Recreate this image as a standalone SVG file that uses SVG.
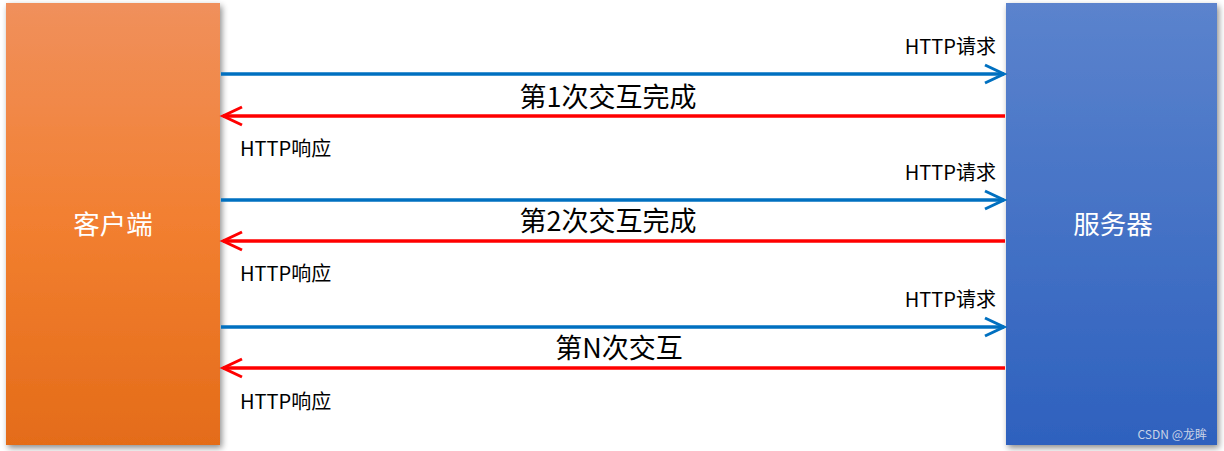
<svg xmlns="http://www.w3.org/2000/svg" width="1224" height="451" viewBox="0 0 1224 451">
<defs>
<linearGradient id="gOrange" x1="0" y1="0" x2="0" y2="1">
<stop offset="0" stop-color="#F0905C"/>
<stop offset="0.5" stop-color="#F27F30"/>
<stop offset="1" stop-color="#E46C19"/>
</linearGradient>
<linearGradient id="gBlue" x1="0" y1="0" x2="0" y2="1">
<stop offset="0" stop-color="#5B83CD"/>
<stop offset="1" stop-color="#2E61BE"/>
</linearGradient>
<filter id="sh" x="-10%" y="-10%" width="125%" height="125%">
<feGaussianBlur in="SourceAlpha" stdDeviation="3"/>
<feOffset dx="2" dy="3"/>
<feComponentTransfer><feFuncA type="linear" slope="0.45"/></feComponentTransfer>
<feMerge><feMergeNode/><feMergeNode in="SourceGraphic"/></feMerge>
</filter>
<marker id="mBlue" viewBox="0 0 12 12" refX="11" refY="6" markerWidth="12" markerHeight="12" markerUnits="userSpaceOnUse" orient="auto" overflow="visible">
<path d="M-8,-3 L11,6 L-8,15" fill="none" stroke="#0070C0" stroke-width="3"/>
</marker>
<marker id="mRed" viewBox="0 0 12 12" refX="11" refY="6" markerWidth="12" markerHeight="12" markerUnits="userSpaceOnUse" orient="auto" overflow="visible">
<path d="M-8,-3 L11,6 L-8,15" fill="none" stroke="#FF0000" stroke-width="3"/>
</marker>
</defs>
<style>
.lbl{font-family:"Noto Sans CJK SC","Liberation Sans",sans-serif;font-size:20px;fill:#000}
.big{font-family:"Noto Sans CJK SC","Liberation Sans",sans-serif;font-size:27px;fill:#000;text-anchor:middle}
.box{font-family:"Noto Sans CJK SC","Liberation Sans",sans-serif;font-size:26.5px;fill:#fff;text-anchor:middle}
.req{stroke:#0070C0;stroke-width:3.5;fill:none;marker-end:url(#mBlue)}
.res{stroke:#FF0000;stroke-width:3.5;fill:none;marker-end:url(#mRed)}
</style>
<rect width="1224" height="451" fill="#fff"/>
<g id="client">
<rect x="6" y="3" width="214" height="442" fill="url(#gOrange)" filter="url(#sh)"/>
<text class="box" x="113" y="234">客户端</text>
</g>
<g id="server">
<rect x="1006" y="3" width="211" height="442" fill="url(#gBlue)" filter="url(#sh)"/>
<text class="box" x="1113" y="234">服务器</text>
</g>
<g id="connectors">
<line class="req" x1="221" y1="74" x2="1004" y2="74"/>
<line class="res" x1="1005" y1="116" x2="223" y2="116"/>
<line class="req" x1="221" y1="200" x2="1004" y2="200"/>
<line class="res" x1="1005" y1="241" x2="223" y2="241"/>
<line class="req" x1="221" y1="327" x2="1004" y2="327"/>
<line class="res" x1="1005" y1="368" x2="223" y2="368"/>
</g>
<g id="labels">
<text class="lbl" x="996" y="54" text-anchor="end">HTTP请求</text>
<text class="big" x="608" y="107">第1次交互完成</text>
<text class="lbl" x="240" y="156">HTTP响应</text>
<text class="lbl" x="996" y="180" text-anchor="end">HTTP请求</text>
<text class="big" x="608" y="231">第2次交互完成</text>
<text class="lbl" x="240" y="281">HTTP响应</text>
<text class="lbl" x="996" y="307" text-anchor="end">HTTP请求</text>
<text class="big" x="619" y="358">第N次交互</text>
<text class="lbl" x="240" y="409">HTTP响应</text>
</g>
<text x="1207" y="439" text-anchor="end" style="font-family:'Noto Sans CJK SC','Liberation Sans',sans-serif;font-size:12px;fill:#C8D2E6">CSDN @龙眸</text>
</svg>
